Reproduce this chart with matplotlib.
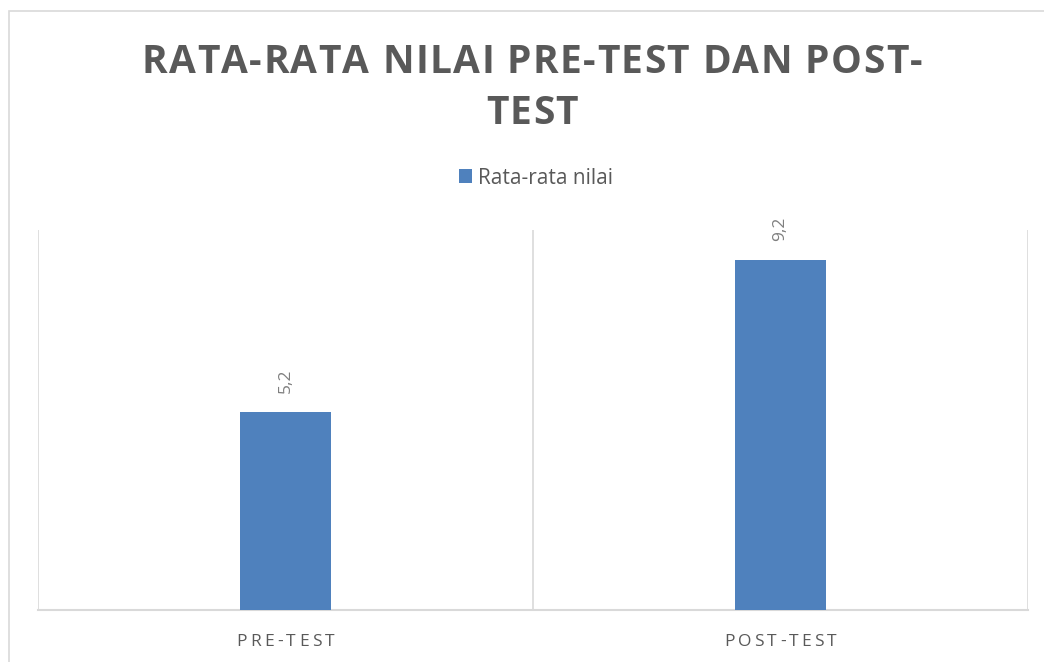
import matplotlib
matplotlib.use("Agg")
import matplotlib.pyplot as plt
from matplotlib.patches import Rectangle

categories = ["PRE-TEST", "POST-TEST"]
values = [5.2, 9.2]
value_labels = ["5,2", "9,2"]
series_name = "Rata-rata nilai"
title_lines = ["RATA-RATA NILAI PRE-TEST DAN POST-", "TEST"]

W, H = 1044, 662
blue = "#4f81bd"
grid = "#d9d9d9"
dark = "#595959"

plt.rcParams['font.family'] = ['Open Sans', 'DejaVu Sans']

fig = plt.figure(figsize=(W / 100, H / 100), dpi=100)
ax = fig.add_axes([38 / W, 1 - 610 / H, (1028 - 38) / W, (610 - 230) / H])
renderer = fig.canvas.get_renderer()


def spaced_text(s, cx, base_y, spacing, **kw):
    # matplotlib has no letter spacing, so lay the letters out one by one (pixel coords)
    t = fig.text(0, 0, "x", **kw)
    prop = t.get_fontproperties()
    t.remove()
    widths = [renderer.get_text_width_height_descent(c, prop, ismath=False)[0] for c in s]
    total = sum(widths) + spacing * (len(s) - 1)
    x = cx - total / 2
    for c, w in zip(s, widths):
        fig.text(x / W, 1 - base_y / H, c, ha="left", va="baseline", **kw)
        x += w + spacing


x = range(len(categories))
bars = ax.bar(x, values, width=0.182, color=blue, zorder=3, label=series_name)
ax.set_xlim(-0.5, 1.5)
ax.set_ylim(0, 10)
for gx in [-0.5, 0.5, 1.5]:
    ax.axvline(gx, color=grid, lw=1.2, zorder=1)

for spine in ["top", "left", "right"]:
    ax.spines[spine].set_visible(False)
ax.spines["bottom"].set_color(grid)
ax.spines["bottom"].set_linewidth(1.5)
ax.set_xticks([])
ax.set_yticks([])

for xi, v, lab in zip(x, values, value_labels):
    ax.annotate(lab, (xi, v), xytext=(0, 14), textcoords="offset points",
                rotation=90, ha="center", va="bottom", fontsize=12.5, color="#7f7f7f")

# category labels under the axis
for xi, cat in zip(x, categories):
    cx = ax.transData.transform((xi, 0))[0]
    spaced_text(cat, cx, 646, 3.2, fontsize=12.5, color=dark)

# title
spaced_text(title_lines[0], 532, 73, 1.4, fontsize=28, fontweight="bold", color=dark)
spaced_text(title_lines[1], 532, 124, 1.4, fontsize=28, fontweight="bold", color=dark)

leg = fig.legend(loc="center", bbox_to_anchor=(536 / W, 1 - 178 / H), frameon=False,
                 fontsize=15, handlelength=0.62, handleheight=0.62, handletextpad=0.3,
                 labelcolor=dark)

# outer chart border
fig.patches.append(Rectangle((9 / W, -0.1), 1.2, 1 - 11 / H + 0.1, transform=fig.transFigure,
                             fill=False, edgecolor=grid, lw=1.2))

fig.savefig("out.png", dpi=100)
